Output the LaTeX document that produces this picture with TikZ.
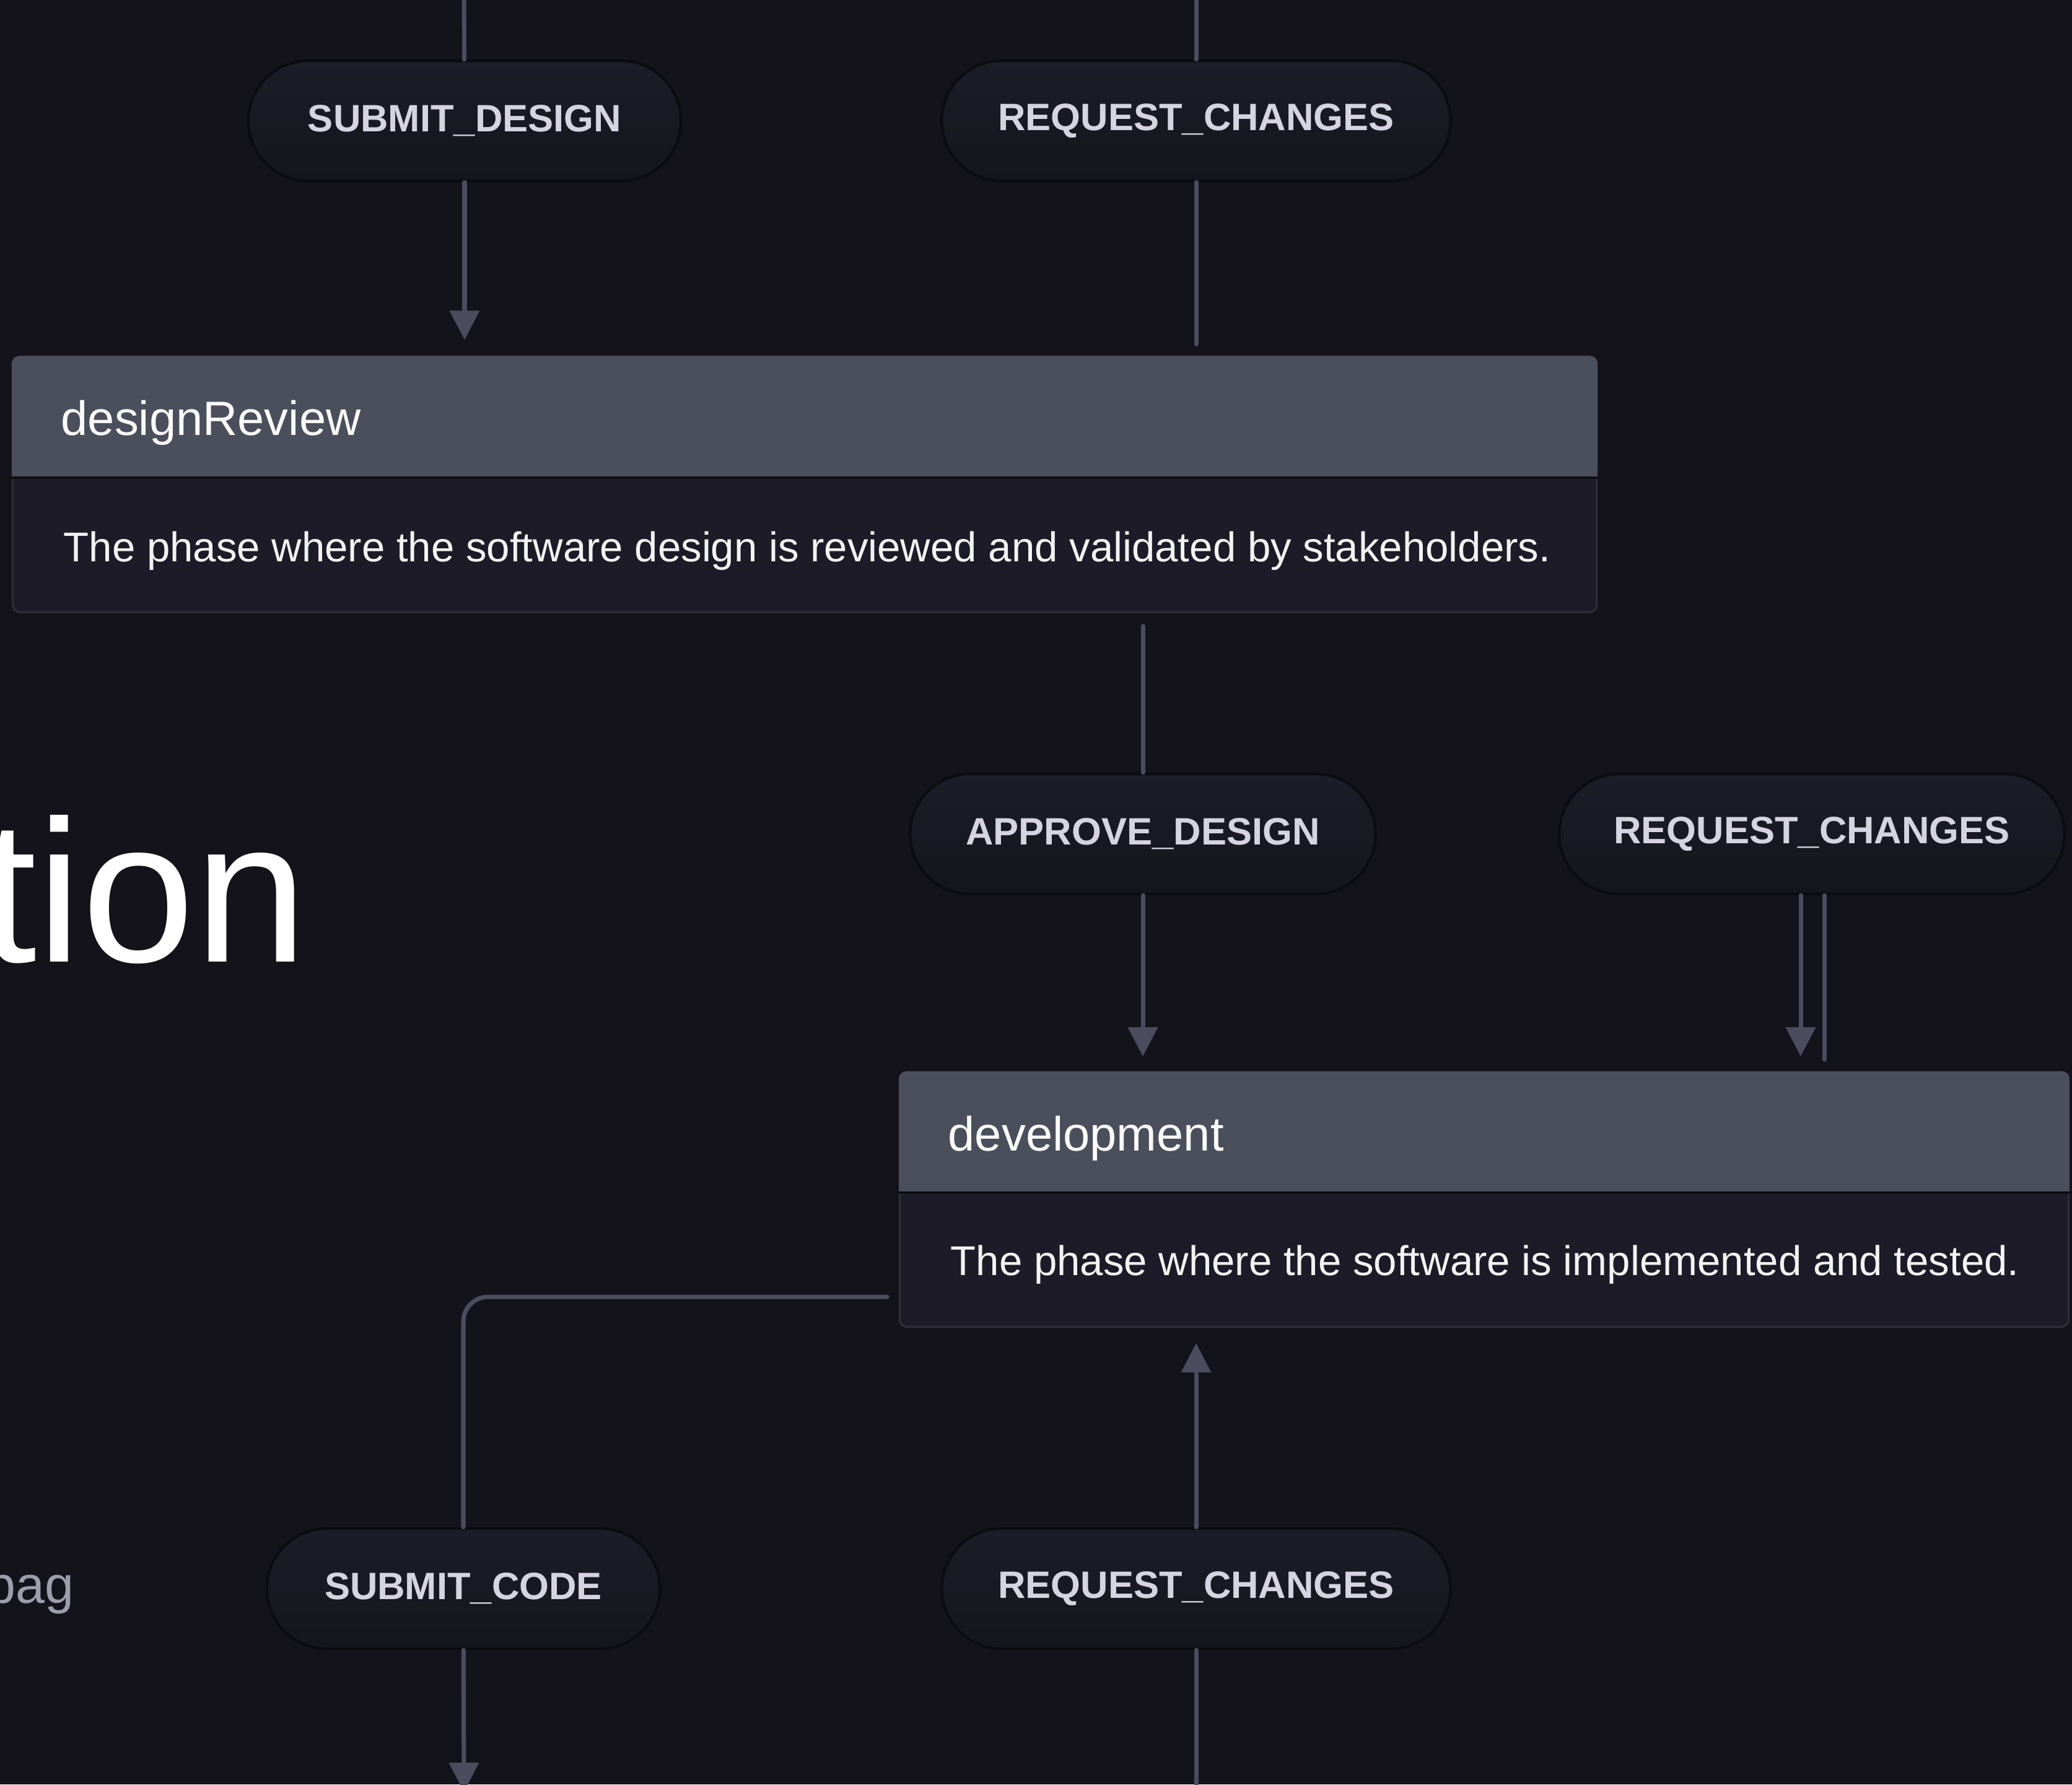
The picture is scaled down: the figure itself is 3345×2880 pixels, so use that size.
\documentclass[tikz,border=0pt]{standalone}
\usepackage{fontspec}
\setmainfont{Liberation Sans}
\usetikzlibrary{arrows.meta,positioning}
\definecolor{canvas}{HTML}{14131C}
\definecolor{headgray}{HTML}{4B4F5B}
\definecolor{bodydark}{HTML}{1C1B27}
\definecolor{wire}{HTML}{4C4C5E}
\definecolor{pilltop}{HTML}{1D1D29}
\definecolor{pillbottom}{HTML}{15151D}
\definecolor{pillline}{HTML}{0B0B11}
\definecolor{labeltext}{HTML}{D5D4E0}
\definecolor{frame}{HTML}{30303B}
\definecolor{seam}{HTML}{0E0E15}
\definecolor{faded}{HTML}{9D9DAB}
\tikzset{
  event/.style={draw=pillline, line width=1.2pt, top color=pilltop, bottom color=pillbottom,
    rounded corners=0.97cm, minimum height=1.94cm, inner sep=0pt, text=labeltext,
    font=\bfseries\fontsize{17.5}{20}\selectfont},
  statebox/.style={draw=frame, line width=0.8pt, fill=bodydark, rounded corners=0.12cm, inner sep=0pt},
  statetitle/.style={text=white!95!gray, inner sep=0pt, anchor=base west, font=\fontsize{22.1}{26}\selectfont},
  statetext/.style={text=white!90!gray, inner sep=0pt, anchor=base west, font=\fontsize{19.1}{23}\selectfont},
  edge/.style={draw=wire, line width=2pt, line cap=round},
  flow/.style={edge, -{Triangle[width=0.47cm,length=0.47cm]}},
}
\begin{document}
\begin{tikzpicture}[x=0.01cm,y=-0.01cm]
\useasboundingbox (0,0) rectangle (3345,2880);
\fill[canvas] (0,0) rectangle (3345,2880);
% page text cut off at the left
\node[inner sep=0pt, anchor=base east, text=white, font=\fontsize{93}{100}\selectfont] (heading) at (497,1552) {tion};
\node[inner sep=0pt, anchor=base east, text=faded, font=\fontsize{24}{28}\selectfont] (subline) at (120,2587) {pag};
% the two states
\node[statebox, minimum width=25.56cm, minimum height=4.12cm] (designReview) at (1299,782) {};
\fill[headgray, rounded corners=0.12cm] (designReview.north west) rectangle ([yshift=-1.96cm]designReview.north east);
\fill[headgray] ([yshift=-1cm]designReview.north west) rectangle ([yshift=-1.96cm]designReview.north east);
\draw[seam, line width=1.2pt] ([yshift=-1.96cm]designReview.north west) -- ([yshift=-1.96cm]designReview.north east);
\node[statetitle] (designReviewTitle) at (98,702) {designReview};
\node[statetext] (designReviewText) at (102,906) {The phase where the software design is reviewed and validated by stakeholders.};
\node[statebox, minimum width=18.86cm, minimum height=4.11cm] (development) at (2396,1936) {};
\fill[headgray, rounded corners=0.12cm] (development.north west) rectangle ([yshift=-1.96cm]development.north east);
\fill[headgray] ([yshift=-1cm]development.north west) rectangle ([yshift=-1.96cm]development.north east);
\draw[seam, line width=1.2pt] ([yshift=-1.96cm]development.north west) -- ([yshift=-1.96cm]development.north east);
\node[statetitle] (developmentTitle) at (1530,1857) {development};
\node[statetext] (developmentText) at (1534,2058) {The phase where the software is implemented and tested.};
% the events
\node[event, minimum width=6.98cm] (submitDesign) at (750,195) {SUBMIT\_DESIGN};
\node[event, minimum width=8.21cm] (requestChangesA) at (1931,195) {REQUEST\_CHANGES};
\node[event, minimum width=7.51cm] (approveDesign) at (1845,1346) {APPROVE\_DESIGN};
\node[event, minimum width=8.15cm] (requestChangesB) at (2925,1346) {REQUEST\_CHANGES};
\node[event, minimum width=6.34cm] (submitCode) at (748,2564) {SUBMIT\_CODE};
\node[event, minimum width=8.21cm] (requestChangesC) at (1931,2564) {REQUEST\_CHANGES};
% loose ends at the top and bottom
\coordinate (designIn) at (749,-10);
\coordinate (reviewIn) at (1931,-10);
\coordinate (codeOut) at (749,2892);
\coordinate (changesIn) at (1931,2900);
% transitions
\draw[edge] (designIn) -- (submitDesign);
\draw[edge] (reviewIn) -- (requestChangesA);
\draw[flow, shorten >=0.26cm] (submitDesign) -- (submitDesign |- designReview.north);
\draw[edge, shorten >=0.19cm] (requestChangesA) -- (requestChangesA |- designReview.north);
\draw[edge, shorten <=0.21cm] (approveDesign |- designReview.south) -- (approveDesign);
\draw[flow, shorten >=0.24cm] (approveDesign) -- (approveDesign |- development.north);
\draw[flow, shorten >=0.24cm] ([xshift=-0.18cm]requestChangesB.south) -- ([xshift=-0.18cm]requestChangesB.south |- development.north);
\draw[edge, shorten <=0.19cm] ([xshift=0.2cm]requestChangesB.south |- development.north) -- ([xshift=0.2cm]requestChangesB.south);
\draw[edge, rounded corners=0.4cm, shorten <=0.19cm] ([yshift=-1.57cm]development.west) -| (submitCode.north);
\draw[flow] (submitCode) -- (codeOut);
\draw[flow, shorten >=0.25cm] (requestChangesC) -- (requestChangesC |- development.south);
\draw[edge] (changesIn) -- (requestChangesC);
\end{tikzpicture}
\end{document}
